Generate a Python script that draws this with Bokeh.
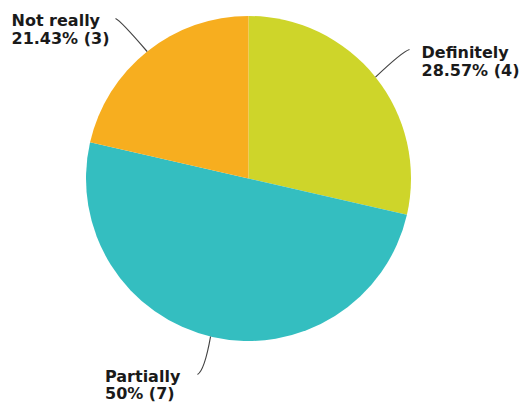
import math
from bokeh.plotting import figure
from bokeh.models import Range1d
from bokeh.core.properties import value
from bokeh.embed import file_html
from bokeh.resources import INLINE

# ---- data ----
categories = ["Definitely", "Partially", "Not really"]
counts = [4, 7, 3]
colors = ["#CED52A", "#34BEC0", "#F7AE1F"]

# ---- layout (screen pixels, y downward) ----
W, H = 519, 402
CX, CY, R = 248, 178, 162.5
# label anchor (x, first baseline) and connector edge angle (deg clockwise from top)
label_pos = [(421, 52), (104.5, 375.5), (11, 20)]
edge_angle = [51.4, 193.5, 321.4]
elbow = [(402, 51), (204, 370), (120, 20)]
tail = [(409, 49), (197, 374), (115, 18)]
LINE_H = 17.6

def sy(y):
    return H - y

p = figure(width=W, height=H, output_backend="svg", toolbar_location=None,
           x_range=Range1d(0, W), y_range=Range1d(0, H), min_border=0)
p.axis.visible = False
p.grid.visible = False
p.outline_line_color = None
p.background_fill_color = "white"
p.border_fill_color = "white"

total = sum(counts)
cum = 0.0
starts, ends = [], []
for c in counts:
    t0 = cum / total * 2 * math.pi
    cum += c
    t1 = cum / total * 2 * math.pi
    starts.append(math.pi / 2 - t1)
    ends.append(math.pi / 2 - t0)

p.wedge(x=CX, y=sy(CY), radius=R, start_angle=starts, end_angle=ends,
        direction="anticlock", fill_color=colors, line_color=None)

for i, cat in enumerate(categories):
    a = math.radians(edge_angle[i])
    ex = CX + R * math.sin(a)
    ey = CY - R * math.cos(a)
    mx, my = elbow[i]
    tx, ty = tail[i]
    p.quadratic(x0=[ex], y0=[sy(ey)], x1=[tx], y1=[sy(ty)], cx=[mx], cy=[sy(my)],
                line_color="#444444", line_width=1.2)
    pct = counts[i] / total * 100
    pct_s = f"{round(pct, 2):g}%"
    lx, ly = label_pos[i]
    p.text(x=[lx, lx], y=[sy(ly), sy(ly + LINE_H)],
           text=[cat, f"{pct_s} ({counts[i]})"],
           text_font=value("DejaVu Sans"), text_font_size="16px",
           text_font_style="bold", text_color="#1a1a1a",
           text_baseline="alphabetic", text_align="left")

open("out.html", "w").write(file_html(p, INLINE))
